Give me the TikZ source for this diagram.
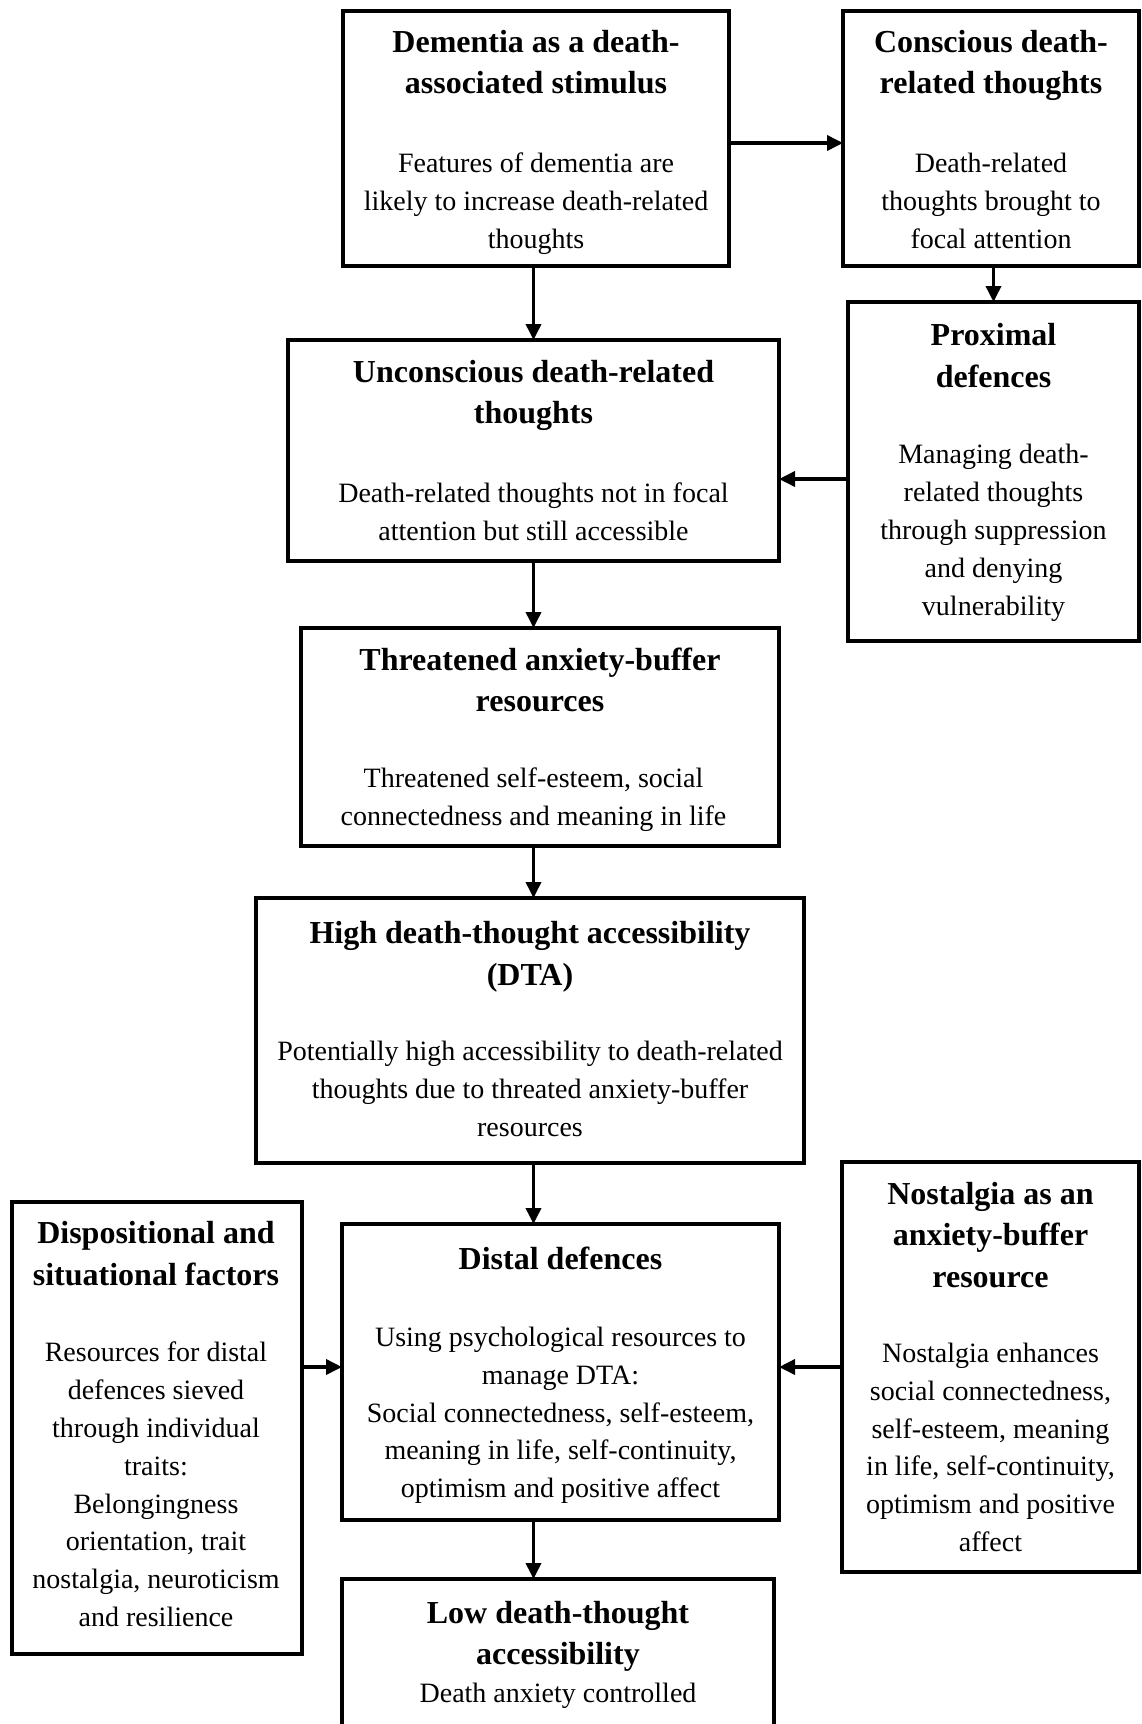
\documentclass[tikz,border=0pt]{standalone}
\usepackage{fontspec}
\setmainfont{Liberation Serif}
\usetikzlibrary{arrows.meta}

\tikzset{
  box/.style={draw, line width=3.6pt, inner sep=0pt, outer sep=0pt},
  head/.style={font=\bfseries\fontsize{32}{41.2}\selectfont, align=center, inner sep=0pt,
    yshift=-5pt, execute at begin node=\strut, execute at end node=\strut},
  body/.style={font=\fontsize{28}{37.8}\selectfont, align=center, inner sep=0pt,
    yshift=-3.5pt, execute at begin node=\strut, execute at end node=\strut},
  arr/.style={line width=3.6pt, -{Triangle[length=16pt,width=15pt]}}
}

\begin{document}
\begin{tikzpicture}[x=1pt,y=-1pt]
\useasboundingbox (0,0) rectangle (1141,1724);
\clip (0,0) rectangle (1141,1724);
\fill[white] (0,0) rectangle (1141,1724);

% boxes
\node[box, minimum width=386pt, minimum height=255pt] (dem)  at (536,138.5)  {};
\node[box, minimum width=296pt, minimum height=255pt] (con)  at (991,138.5)  {};
\node[box, minimum width=491pt, minimum height=221pt] (unc)  at (533.5,450.5) {};
\node[box, minimum width=291pt, minimum height=339pt] (prox) at (993.5,471.5) {};
\node[box, minimum width=478pt, minimum height=218pt] (thr)  at (540,737)    {};
\node[box, minimum width=548pt, minimum height=265pt] (hda)  at (530,1030.5) {};
\node[box, minimum width=290pt, minimum height=452pt] (disp) at (157,1428)   {};
\node[box, minimum width=437pt, minimum height=296pt] (dist) at (560.5,1372) {};
\node[box, minimum width=297pt, minimum height=410pt] (nos)  at (990.5,1367) {};
\node[box, minimum width=432pt, minimum height=200pt] (low)  at (558,1679)   {};

% texts
\node[head] (demh) at (536,63) {Dementia as a death-\\associated stimulus};
\node[body] (demb) at (536,203) {Features of dementia are\\likely to increase death-related\\thoughts};

\node[head] (conh) at (991,63) {Conscious death-\\related thoughts};
\node[body] (conb) at (991,203) {Death-related\\thoughts brought to\\focal attention};

\node[head] (unch) at (533.5,393) {Unconscious death-related\\thoughts};
\node[body] (uncb) at (533.5,514) {Death-related thoughts not in focal\\attention but still accessible};

\node[head] (proxh) at (993.5,356.5) {Proximal\\defences};
\node[body] (proxb) at (993.5,532) {Managing death-\\related thoughts\\through suppression\\and denying\\vulnerability};

\node[head] (thrh) at (540,681) {Threatened anxiety-buffer\\resources};
\node[body] (thrb) at (533.5,799) {Threatened self-esteem, social\\connectedness and meaning in life};

\node[head] (hdah) at (530,954.5) {High death-thought accessibility\\(DTA)};
\node[body] (hdab) at (530,1091) {Potentially high accessibility to death-related\\thoughts due to threated anxiety-buffer\\resources};

\node[head] (disph) at (156,1254.5) {Dispositional and\\situational factors};
\node[body] (dispb) at (156,1486.5) {Resources for distal\\defences sieved\\through individual\\traits:\\Belongingness\\orientation, trait\\nostalgia, neuroticism\\and resilience};

\node[head] (disth) at (560.5,1256) {Distal defences};
\node[body] (distb) at (560.5,1414.5) {Using psychological resources to\\manage DTA:\\Social connectedness, self-esteem,\\meaning in life, self-continuity,\\optimism and positive affect};

\node[head] (nosh) at (990.5,1236) {Nostalgia as an\\anxiety-buffer\\resource};
\node[body] (nosb) at (990.5,1449.5) {Nostalgia enhances\\social connectedness,\\self-esteem, meaning\\in life, self-continuity,\\optimism and positive\\affect};

\node[head] (lowh) at (558,1634) {Low death-thought\\accessibility};
\node[body] (lowb) at (558,1691.5) {Death anxiety controlled};

% connectors
\draw[arr] ([yshift=-4.5pt]dem.east) -- ([yshift=-4.5pt]dem.east -| con.west);
\draw[arr] (dem.south -| unc.north) -- (unc.north);
\draw[arr] (con.south -| prox.north) -- (prox.north);
\draw[arr] ([yshift=-7.5pt]prox.west) -- ([yshift=-7.5pt]prox.west -| unc.east);
\draw[arr] (unc.south) -- (unc.south |- thr.north);
\draw[arr] (thr.south -| unc.south) -- (unc.south |- hda.north);
\draw[arr] (hda.south -| unc.south) -- (unc.south |- dist.north);
\draw[arr] (nos.west -| disp.east) -- (nos.west -| dist.west);
\draw[arr] (nos.west) -- (nos.west -| dist.east);
\draw[arr] (dist.south -| unc.south) -- (unc.south |- low.north);
\end{tikzpicture}
\end{document}
